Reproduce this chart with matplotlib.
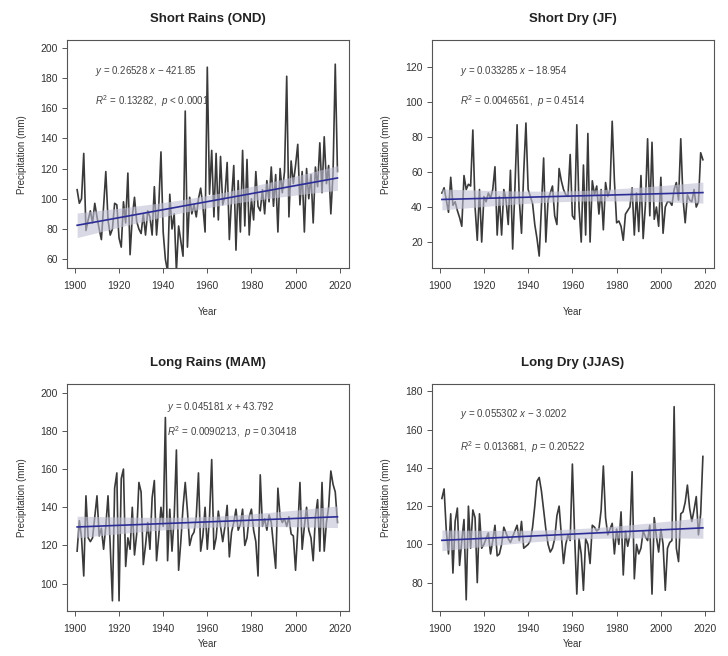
import numpy as np
import matplotlib
matplotlib.use("Agg")
import matplotlib.pyplot as plt

plt.rcParams['font.family'] = ['Liberation Sans', 'DejaVu Sans']
plt.rcParams['mathtext.fontset'] = 'custom'
plt.rcParams['mathtext.rm'] = 'Liberation Sans'
plt.rcParams['mathtext.it'] = 'Liberation Sans:italic'

years = np.arange(1901, 2020)

titles = ["Short Rains (OND)", "Short Dry (JF)", "Long Rains (MAM)", "Long Dry (JJAS)"]

ond = [106, 97, 100, 130, 79, 86, 92, 84, 97, 88,
       80, 73, 95, 118, 86, 76, 80, 97, 96, 74,
       68, 98, 84, 117, 63, 88, 101, 85, 80, 77,
       90, 76, 92, 88, 76, 108, 76, 95, 131, 78,
       60, 52, 103, 80, 90, 52, 82, 72, 62, 158,
       68, 101, 90, 96, 88, 100, 107, 95, 78, 187,
       103, 132, 88, 130, 86, 128, 96, 102, 124, 73,
       100, 122, 66, 112, 78, 132, 82, 126, 76, 100,
       86, 118, 95, 92, 106, 90, 112, 98, 121, 95,
       116, 78, 120, 104, 118, 181, 88, 125, 110, 122,
       136, 96, 118, 78, 120, 100, 116, 84, 121, 108,
       137, 104, 141, 110, 122, 90, 117, 189, 118]

jf = [48, 51, 44, 37, 57, 41, 43, 38, 34, 29,
      58, 50, 53, 52, 84, 40, 21, 50, 20, 46,
      43, 48, 45, 50, 63, 24, 46, 24, 50, 44,
      30, 61, 16, 50, 87, 44, 25, 60, 88, 50,
      46, 42, 30, 22, 12, 40, 68, 20, 44, 48,
      52, 35, 30, 62, 55, 50, 47, 46, 70, 35,
      33, 87, 40, 20, 64, 24, 82, 20, 55, 47,
      52, 36, 50, 27, 54, 46, 50, 89, 55, 31,
      32, 29, 21, 36, 38, 40, 51, 24, 48, 26,
      58, 22, 41, 79, 35, 77, 33, 40, 29, 57,
      25, 40, 43, 43, 41, 50, 54, 44, 79, 45,
      31, 47, 44, 43, 50, 40, 43, 71, 67]

mam = [117, 133, 124, 104, 146, 124, 122, 124, 135, 146,
       125, 129, 118, 130, 146, 120, 91, 150, 158, 91,
       155, 160, 109, 124, 118, 140, 115, 126, 153, 148,
       110, 120, 132, 118, 145, 154, 112, 125, 140, 130,
       187, 112, 139, 117, 135, 170, 107, 122, 140, 153,
       138, 120, 125, 127, 135, 158, 117, 125, 140, 118,
       135, 165, 118, 124, 138, 130, 122, 130, 141, 114,
       127, 132, 139, 128, 131, 139, 120, 124, 135, 139,
       128, 122, 104, 157, 130, 134, 128, 136, 132, 120,
       108, 150, 135, 132, 134, 130, 135, 126, 125, 107,
       128, 153, 118, 130, 140, 128, 124, 112, 135, 144,
       117, 153, 117, 132, 140, 159, 152, 148, 132]

jjas = [124, 129, 107, 95, 116, 85, 112, 119, 89, 102,
        113, 71, 120, 98, 118, 114, 80, 116, 98, 100,
        103, 106, 95, 102, 110, 94, 95, 100, 109, 106,
        103, 101, 104, 107, 110, 102, 112, 98, 99, 100,
        102, 109, 120, 133, 135, 128, 118, 108, 100, 96,
        98, 103, 115, 120, 105, 90, 100, 105, 102, 142,
        105, 74, 103, 95, 76, 103, 100, 90, 110, 109,
        107, 108, 118, 141, 114, 105, 108, 111, 95, 108,
        100, 117, 84, 107, 99, 105, 138, 82, 100, 95,
        98, 107, 104, 102, 110, 74, 114, 104, 96, 108,
        100, 76, 98, 101, 102, 172, 98, 91, 116, 117,
        122, 131, 119, 112, 118, 125, 105, 116, 146]

series = [ond, jf, mam, jjas]
slopes = [0.26528, 0.033285, 0.045181, 0.055302]
intercepts = [-421.85, -18.954, 43.792, -3.0202]
eq_texts = ["$y$ = 0.26528 $x$ \u2212 421.85",
            "$y$ = 0.033285 $x$ \u2212 18.954",
            "$y$ = 0.045181 $x$ + 43.792",
            "$y$ = 0.055302 $x$ \u2212 3.0202"]
r2_texts = ["$R^2$ = 0.13282,  $p$ < 0.0001",
            "$R^2$ = 0.0046561,  $p$ = 0.4514",
            "$R^2$ = 0.0090213,  $p$ = 0.30418",
            "$R^2$ = 0.013681,  $p$ = 0.20522"]
ylims = [(54, 205), (5, 135.4), (85.8, 204.7), (65.3, 184)]
yticks = [np.arange(60, 201, 20), np.arange(20, 121, 20),
          np.arange(100, 201, 20), np.arange(80, 181, 20)]
xticks = np.arange(1900, 2021, 20)

positions = [[0.092, 0.591, 0.387, 0.348], [0.593, 0.591, 0.388, 0.348],
             [0.092, 0.069, 0.387, 0.346], [0.593, 0.069, 0.388, 0.346]]
text_pos = [((0.099, 0.864), (0.099, 0.732)), ((0.099, 0.864), (0.099, 0.732)),
            ((0.355, 0.899), (0.355, 0.789)), ((0.099, 0.868), (0.099, 0.722))]
xlabel_pads = [11, 11, 4, 4]

fig = plt.figure(figsize=(7.28, 6.56), dpi=100)
for i in range(4):
    ax = fig.add_axes(positions[i])
    y = np.array(series[i], dtype=float)
    assert len(y) == len(years)
    b, a = slopes[i], intercepts[i]
    xs = np.linspace(years[0], years[-1], 200)
    fit = a + b * xs
    resid = y - (a + b * years)
    n = len(y)
    s = np.sqrt(np.sum(resid ** 2) / (n - 2))
    xbar = years.mean()
    sxx = np.sum((years - xbar) ** 2)
    se = s * np.sqrt(1.0 / n + (xs - xbar) ** 2 / sxx) * 1.98
    ax.plot(years, y, color='#3a3a3a', lw=1.2, zorder=2)
    ax.fill_between(xs, fit - se, fit + se, color='#c0c0d4', alpha=0.6, lw=0, zorder=3)
    ax.plot(xs, fit, color='#2c2c96', lw=1.2, zorder=4)
    ax.set_xlim(1896.4, 2024.1)
    ax.set_ylim(*ylims[i])
    ax.set_xticks(xticks)
    ax.set_yticks(yticks[i])
    ax.tick_params(axis='both', direction='out', length=3.5, width=0.7,
                   color='#555555', labelsize=7.5, labelcolor='#333333')
    ax.tick_params(axis='x', pad=6)
    ax.tick_params(axis='y', pad=3)
    for sp in ax.spines.values():
        sp.set_color('#555555')
        sp.set_linewidth(0.8)
    ax.set_title(titles[i], fontsize=9.5, fontweight='bold', pad=13, color='#222222')
    ax.set_ylabel("Precipitation (mm)", fontsize=7, labelpad=10, color='#333333')
    ax.set_xlabel("Year", fontsize=7, labelpad=xlabel_pads[i], color='#333333')
    (tx1, ty1), (tx2, ty2) = text_pos[i]
    ax.text(tx1, ty1, eq_texts[i], transform=ax.transAxes, fontsize=7,
            color='#444444', va='center', ha='left', zorder=5)
    ax.text(tx2, ty2, r2_texts[i], transform=ax.transAxes, fontsize=7,
            color='#444444', va='center', ha='left', zorder=5)

fig.savefig("out.png", dpi=100)
